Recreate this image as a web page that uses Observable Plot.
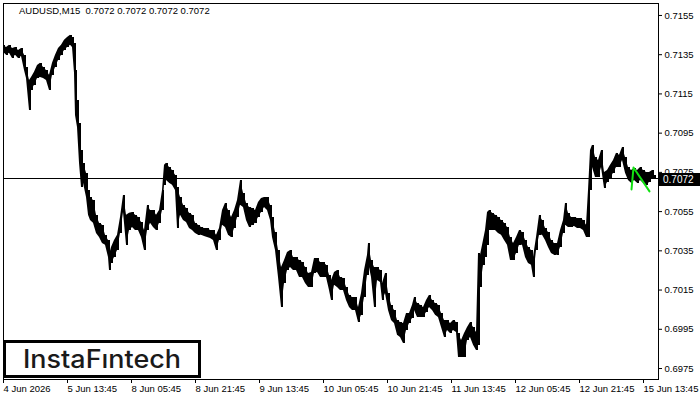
<!DOCTYPE html>
<html><head><meta charset="utf-8">
<script src="https://cdn.jsdelivr.net/npm/d3@7"></script>
<script src="https://cdn.jsdelivr.net/npm/@observablehq/plot@0.6"></script>
<style>
body{margin:0;background:#fff;}
#wrap{position:relative;width:700px;height:400px;overflow:hidden;font-family:"Liberation Sans",Arial,sans-serif;}
#title{position:absolute;left:19px;top:6px;font-size:9.5px;line-height:10px;white-space:pre;color:#000;}
#logo{position:absolute;left:3px;top:340px;}
#pricebox{position:absolute;left:659px;width:41px;height:13px;background:#000;color:#fff;font-size:10px;line-height:13px;padding-left:4px;box-sizing:border-box;}
</style></head><body><div id="wrap"></div>
<script>
const symbolTitle = "AUDUSD,M15  0.7072 0.7072 0.7072 0.7072";
const lastPrice = 0.7072;

const barIndex = [
0,3,6,9,12,15,18,21,23,26,
28,31,34,37,40,43,46,49,52,55,
58,61,64,67,69,71,72,74,76,78,
80,83,85,87,90,93,96,99,102,105,
106,108,111,114,117,120,123,126,129,132,
135,138,141,144,147,150,153,156,159,161,
163,166,169,172,174,177,180,183,186,189,
192,195,198,201,204,207,210,213,216,219,
222,225,228,231,234,237,240,243,246,249,
252,255,258,261,264,267,269,272,275,278,
281,284,287,290,293,296,299,302,305,308,
311,314,317,320,323,326,328,331,334,337,
340,343,346,349,352,355,358,361,364,365,
368,371,374,377,379,382,385,388,391,394,
397,400,403,406,409,411,414,417,420,423,
426,429,432,435,438,441,444,447,450,453,
455,458,461,464,467,470,473,475,477,480,
482,484,486,489,492,495,498,501,504,507,
510,513,516,519,522,525,528,530,533,536,
539,542,545,548,551,554,557,560,562,565,
568,571,574,577,580,583,585,587,589,592,
595,598,601,604,607,610,613,616,619,622,
625,628,631,634,637,640,643,646,649,651];

const highs = [
.71398,.71387,.71398,.71382,.71387,.71372,.71382,.71347,.71285,.71219,
.71234,.71260,.71295,.71306,.71285,.71270,.71245,.71306,.71347,.71382,
.71398,.71423,.71438,.71449,.71438,.71408,.71270,.71117,.71000,.70862,
.70796,.70745,.70658,.70622,.70607,.70531,.70490,.70480,.70429,.70403,
.70327,.70367,.70403,.70429,.70520,.70633,.70531,.70541,.70546,.70531,
.70520,.70495,.70454,.70582,.70556,.70556,.70531,.70556,.70658,.70786,
.70796,.70775,.70760,.70735,.70673,.70622,.70582,.70566,.70541,.70531,
.70490,.70480,.70469,.70464,.70464,.70454,.70454,.70429,.70464,.70556,
.70592,.70556,.70520,.70556,.70607,.70709,.70643,.70592,.70571,.70566,
.70556,.70597,.70617,.70622,.70622,.70582,.70520,.70444,.70352,.70265,
.70301,.70342,.70352,.70316,.70316,.70301,.70291,.70265,.70235,.70240,
.70311,.70311,.70291,.70291,.70276,.70225,.70199,.70240,.70250,.70214,
.70209,.70163,.70123,.70112,.70112,.70061,.70133,.70250,.70327,.70388,
.70301,.70265,.70265,.70250,.70184,.70235,.70133,.70072,.70046,.69995,
.69985,.69980,.70031,.70031,.70072,.70112,.70082,.70072,.70061,.70097,
.70123,.70097,.70082,.70072,.70031,.69995,.69995,.69980,.69995,.69985,
.69929,.69893,.69929,.69959,.69985,.69959,.69934,.70337,.70327,.70403,
.70454,.70546,.70556,.70541,.70531,.70520,.70505,.70490,.70469,.70418,
.70388,.70418,.70454,.70444,.70403,.70367,.70352,.70316,.70418,.70531,
.70505,.70464,.70444,.70403,.70388,.70388,.70454,.70505,.70592,.70541,
.70520,.70520,.70515,.70515,.70505,.70480,.70658,.70862,.70888,.70826,
.70811,.70862,.70750,.70760,.70786,.70811,.70847,.70837,.70877,.70826,
.70775,.70760,.70770,.70760,.70775,.70760,.70750,.70750,.70760,.70735];

const lows = [
.71362,.71347,.71357,.71331,.71347,.71331,.71341,.71270,.71229,.71066,
.71168,.71194,.71229,.71234,.71229,.71219,.71168,.71245,.71285,.71321,
.71347,.71372,.71387,.71398,.71387,.71255,.71040,.70979,.70796,.70673,
.70694,.70622,.70531,.70505,.70490,.70439,.70418,.70388,.70378,.70316,
.70250,.70286,.70316,.70352,.70439,.70546,.70378,.70454,.70469,.70454,
.70454,.70418,.70352,.70454,.70490,.70469,.70454,.70490,.70556,.70684,
.70709,.70694,.70684,.70658,.70464,.70531,.70505,.70495,.70464,.70454,
.70439,.70429,.70429,.70423,.70418,.70413,.70403,.70352,.70403,.70480,
.70469,.70429,.70418,.70464,.70520,.70582,.70571,.70505,.70469,.70480,
.70490,.70520,.70546,.70571,.70556,.70505,.70418,.70352,.70214,.70061,
.70184,.70250,.70265,.70250,.70250,.70214,.70214,.70184,.70163,.70163,
.70235,.70240,.70214,.70214,.70214,.70148,.70097,.70174,.70163,.70148,
.70148,.70097,.70061,.70046,.70046,.69985,.70021,.70112,.70225,.70291,
.70214,.70061,.70199,.70189,.70097,.70133,.70046,.69995,.69980,.69919,
.69908,.69878,.69944,.69980,.70005,.70046,.70010,.70010,.70010,.70036,
.70061,.70046,.70021,.70010,.69959,.69908,.69944,.69929,.69944,.69934,
.69806,.69806,.69806,.69893,.69908,.69868,.69842,.69868,.70163,.70276,
.70316,.70378,.70454,.70454,.70454,.70439,.70429,.70403,.70378,.70301,
.70301,.70337,.70378,.70378,.70316,.70286,.70276,.70214,.70352,.70429,
.70429,.70403,.70367,.70337,.70327,.70327,.70367,.70439,.70480,.70469,
.70469,.70474,.70464,.70464,.70454,.70418,.70418,.70658,.70775,.70724,
.70724,.70775,.70668,.70699,.70719,.70745,.70775,.70775,.70811,.70745,
.70709,.70694,.70709,.70694,.70709,.70694,.70684,.70699,.70719,.70714];

const tickBars = [0,64,128,192,256,320,384,448,512,576,640];
const tickLabels = ["4 Jun 2026","5 Jun 13:45","8 Jun 05:45","8 Jun 21:45","9 Jun 13:45","10 Jun 05:45","10 Jun 21:45","11 Jun 13:45","12 Jun 05:45","12 Jun 21:45","15 Jun 13:45"];
const priceTicks = [0.6975,0.6995,0.7015,0.7035,0.7055,0.7075,0.7095,0.7115,0.7135,0.7155];

const patternBars = [628,630,646];
const patternPrices = [0.70663,0.70775,0.70653];

const bars = barIndex.map((b, k) => ({b, hi: highs[k], lo: lows[k]}));
const pattern = patternBars.map((b, k) => ({b, p: patternPrices[k]}));
const fmt = d3.format(".4f");

const chart = Plot.plot({
  width: 700, height: 400,
  marginLeft: 3, marginRight: 42, marginTop: 3, marginBottom: 21,
  style: {fontFamily: '"Liberation Sans", Arial, sans-serif', fontSize: "9px", color: "#000", background: "#fff"},
  x: {type: "linear", domain: [0, 655]},
  y: {domain: [0.69694, 0.71611]},
  marks: [
    Plot.ruleY([lastPrice], {stroke: "#000", strokeWidth: 1, shapeRendering: "crispEdges"}),
    Plot.areaY(bars, {x: "b", y1: "lo", y2: "hi", fill: "#000", curve: "linear"}),
    Plot.ruleX(bars, {x: "b", y1: "lo", y2: "hi", stroke: "#000", strokeWidth: 2, shapeRendering: "crispEdges"}),
    Plot.line(pattern, {x: "b", y: "p", stroke: "#11e011", strokeWidth: 2}),
    Plot.frame({stroke: "#000", shapeRendering: "crispEdges"}),
    Plot.axisY(priceTicks, {anchor: "right", tickSize: 3, tickPadding: 3, tickFormat: fmt, label: null, fontSize: 9.5}),
    Plot.axisX(tickBars, {anchor: "bottom", tickSize: 4, tickPadding: 2, tickFormat: d => tickLabels[tickBars.indexOf(d)], textAnchor: "start", label: null, fontSize: 9.5})
  ]
});

const wrap = document.getElementById("wrap");
wrap.appendChild(chart);

const title = document.createElement("div");
title.id = "title";
title.textContent = symbolTitle;
wrap.appendChild(title);

const box = document.createElement("div");
box.id = "pricebox";
box.textContent = fmt(lastPrice);
box.style.top = (chart.scale("y").apply(lastPrice) - 5) + "px";
wrap.appendChild(box);

const logo = document.createElement("div");
logo.id = "logo";
logo.innerHTML = '<svg width="198" height="38" xmlns="http://www.w3.org/2000/svg">' +
  '<rect x="1.5" y="1.5" width="195" height="35" fill="#fff" stroke="#000" stroke-width="3"/>' +
  '<text x="20" y="28" font-family="Inter, Lato, sans-serif" font-weight="500" font-size="25" fill="#1a1a1a" textLength="158" lengthAdjust="spacingAndGlyphs">InstaFıntech</text></svg>';
wrap.appendChild(logo);
</script>
</body></html>
